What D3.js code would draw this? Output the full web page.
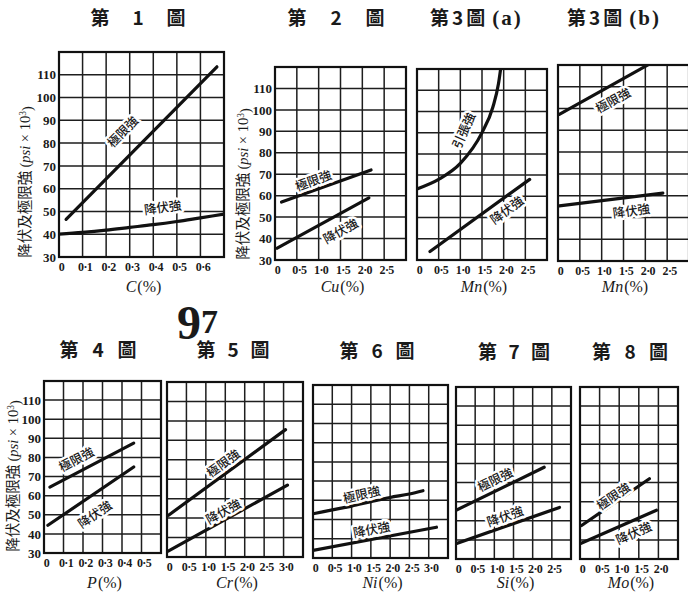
<!DOCTYPE html>
<html>
<head>
<meta charset="utf-8">
<script src="https://cdn.jsdelivr.net/npm/d3@7"></script>
<style>
  body { margin: 0; background: #fff; }
  text { fill: #1a1a1a; }
</style>
</head>
<body>
<svg id="chart" width="688" height="593"></svg>
<script>
// strength (psi x 10^3) against alloy content (%)
var yTicks = [30, 40, 50, 60, 70, 80, 90, 100, 110];
var yTop = 120;

var cTicks = ["0", "0·1", "0·2", "0·3", "0·4", "0·5", "0·6"];
var pTicks = ["0", "0·1", "0·2", "0·3", "0·4", "0·5"];
var halfTicks6 = ["0", "0·5", "1·0", "1·5", "2·0", "2·5"];
var halfTicks7 = ["0", "0·5", "1·0", "1·5", "2·0", "2·5", "3·0"];
var moTicks = ["0", "0·5", "1·0", "1·5", "2·0"];

var titles = ["第 1 圖", "第 2 圖", "第3圖|(a)", "第3圖|(b)", "第 4 圖", "第 5 圖", "第 6 圖", "第 7 圖", "第 8 圖"];
var elements = ["C", "Cu", "Mn", "Mn", "P", "Cr", "Ni", "Si", "Mo"];

// [x %, y] points of each curve
var fig1Ult = [[0.03, 46.5], [0.67, 113.5]];
var fig1Yld = [[0, 40], [0.1, 40.8], [0.2, 41.8], [0.3, 43], [0.4, 44.2], [0.5, 45.6], [0.6, 47.2], [0.7, 48.8]];
var fig2Ult = [[0.15, 57], [2.2, 72]];
var fig2Yld = [[0.05, 35.5], [2.15, 59]];
var fig3aTen = [[0, 63.5], [0.5, 68], [1.0, 75.5], [1.5, 90], [1.75, 102], [1.88, 113], [1.93, 120]];
var fig3aYld = [[0.3, 34], [2.6, 68]];
var fig3bUlt = [[0.03, 97.3], [2.1, 120.5]];
var fig3bYld = [[0.03, 55.3], [2.4, 61.2]];
var fig4Ult = [[0.03, 64.5], [0.46, 87.5]];
var fig4Yld = [[0.02, 44.5], [0.46, 75]];
var fig5Ult = [[0.04, 51.5], [3.05, 95.5]];
var fig5Yld = [[0.03, 33], [3.1, 67]];
var fig6Ult = [[0, 53], [0.5, 55], [1.0, 57], [1.5, 59.3], [2.0, 61.5], [2.5, 63.3], [2.85, 65]];
var fig6Yld = [[0, 34], [3.2, 46]];
var fig7Ult = [[0, 55.5], [2.3, 78]];
var fig7Yld = [[0, 38], [2.7, 57]];
var fig8Ult = [[0.04, 47.5], [1.77, 72]];
var fig8Yld = [[0, 38], [1.95, 55.5]];

// curve names: [text, x, y, index of curve it follows, optional angle]
var fig1Notes = [["極限強", 0.27, 85, 0], ["降伏強", 0.44, 51.7, 1]];
var fig2Notes = [["極限強", 0.88, 67, 0], ["降伏強", 1.5, 43.5, 1]];
var fig3aNotes = [["引張強", 1.08, 91, 0, -66], ["降伏強", 2.07, 53.5, 1]];
var fig3bNotes = [["極限強", 1.26, 103.7, 0], ["降伏強", 1.68, 53, 1]];
var fig4Notes = [["極限強", 0.166, 79, 0], ["降伏強", 0.26, 50.2, 1]];
var fig5Notes = [["極限強", 1.45, 78.2, 0], ["降伏強", 1.45, 53.4, 1]];
var fig6Notes = [["極限強", 1.26, 63, 0], ["降伏強", 1.52, 44.7, 1]];
var fig7Notes = [["極限強", 1.02, 71.5, 0], ["降伏強", 1.28, 52.3, 1]];
var fig8Notes = [["極限強", 0.85, 62.8, 0], ["降伏強", 1.37, 43.6, 1]];

// layout of each small chart
var panels = [
  {frame: [59, 52, 224, 257], xMax: 0.7, step: 0.1, ticks: cTicks, yAxis: [25, 182], title: [138, 25, 95], lines: [fig1Ult, fig1Yld], notes: fig1Notes, row: 0},
  {frame: [275, 67, 406, 260], xMax: 3.0, step: 0.5, ticks: halfTicks6, yAxis: [243, 184], title: [336, 25, 97], lines: [fig2Ult, fig2Yld], notes: fig2Notes, row: 0},
  {frame: [417, 69, 547, 260], xMax: 3.0, step: 0.5, ticks: halfTicks6, yAxis: null, title: [430, 25, 0], lines: [fig3aTen, fig3aYld], notes: fig3aNotes, row: 0},
  {frame: [558, 65, 689, 261], xMax: 3.0, step: 0.5, ticks: halfTicks6, yAxis: null, title: [567, 25, 0], lines: [fig3bUlt, fig3bYld], notes: fig3bNotes, row: 0},
  {frame: [44, 381, 161, 553], xMax: 0.6, step: 0.1, ticks: pTicks, yAxis: [13, 476], title: [98, 357, 77], lines: [fig4Ult, fig4Yld], notes: fig4Notes, row: 1},
  {frame: [167, 382, 303, 557], xMax: 3.5, step: 0.5, ticks: halfTicks7, yAxis: null, title: [233, 357, 73], lines: [fig5Ult, fig5Yld], notes: fig5Notes, row: 1},
  {frame: [313, 385, 448, 558], xMax: 3.5, step: 0.5, ticks: halfTicks7, yAxis: null, title: [377, 358, 75], lines: [fig6Ult, fig6Yld], notes: fig6Notes, row: 1},
  {frame: [456, 387, 571, 559], xMax: 3.0, step: 0.5, ticks: halfTicks6, yAxis: null, title: [514, 359, 72], lines: [fig7Ult, fig7Yld], notes: fig7Notes, row: 1},
  {frame: [580, 387, 678, 559], xMax: 2.5, step: 0.5, ticks: moTicks, yAxis: null, title: [630, 359, 76], lines: [fig8Ult, fig8Yld], notes: fig8Notes, row: 1}
];

var svg = d3.select("#chart");
svg.append("rect").attr("width", 688).attr("height", 593).attr("fill", "#fff");

var serif = "'Liberation Serif', 'DejaVu Serif', serif";
var cjk = "'Noto Sans CJK JP', 'Noto Sans CJK TC', sans-serif";
var noteSize = 12.5;

// page number printed over the figure
var pn = svg.append("text").attr("x", 177).attr("y", 339)
  .style("font-family", serif).style("font-weight", "bold");
pn.append("tspan").style("font-size", "48px").text("9");
pn.append("tspan").style("font-size", "34px").attr("dy", "-6").text("7");

// layers, bottom to top
var textLayer = svg.append("g");
var gridLayer = svg.append("g");
var curveLayer = svg.append("g");
var noteLayer = svg.append("g");
var frameLayer = svg.append("g");

panels.forEach(function(p, i) {
  var x = d3.scaleLinear().domain([0, p.xMax]).range([p.frame[0], p.frame[2]]);
  var y = d3.scaleLinear().domain([30, yTop]).range([p.frame[3], p.frame[1]]);
  var x0 = p.frame[0], y0 = p.frame[1], x1 = p.frame[2], y1 = p.frame[3];

  // grid on the scale ticks
  var cells = Math.round(p.xMax / p.step);
  var xs = d3.range(1, cells).map(function(k) { return k * p.step; });
  var gd = "";
  xs.forEach(function(v) { gd += "M" + x(v) + "," + y0 + "V" + y1; });
  yTicks.slice(1).forEach(function(v) { gd += "M" + x0 + "," + y(v) + "H" + x1; });
  gridLayer.append("path").attr("d", gd)
    .attr("fill", "none").attr("stroke", "#1e1e1e").attr("stroke-width", 1.5);

  var g = textLayer.append("g");

  // title
  var parts = titles[i].split("|");
  var tt = g.append("text")
    .attr("x", p.title[0]).attr("y", p.title[1])
    .style("font-family", cjk).style("font-weight", "bold").style("font-size", "19px");
  if (p.title[2] > 0) {
    tt.attr("text-anchor", "middle").attr("textLength", p.title[2]).attr("lengthAdjust", "spacing").text(parts[0]);
  } else {
    tt.append("tspan").style("letter-spacing", "3px").text(parts[0]);
    tt.append("tspan").attr("dx", 4).style("font-family", serif).style("font-size", "21px")
      .style("letter-spacing", "2px").text(parts[1]);
  }

  // x tick labels
  var xt = g.append("g")
    .attr("transform", "translate(2," + y1 + ")")
    .call(d3.axisBottom(x).tickValues(p.ticks.map(function(t, k) { return k * p.step; }))
      .tickSize(0).tickPadding(5).tickFormat(function(d, k) { return p.ticks[k]; }));
  xt.select(".domain").remove();
  xt.selectAll("line").remove();
  xt.selectAll("text").style("font-family", serif).style("font-weight", "bold").style("font-size", "12px")
    .style("letter-spacing", "-0.6px");

  // axis name
  var an = g.append("text")
    .attr("x", (x0 + Math.min(x1, 688)) / 2 + 2)
    .attr("y", p.row === 0 ? 292 : 588)
    .attr("text-anchor", "middle")
    .style("font-family", serif).style("font-size", "16px");
  an.append("tspan").style("font-style", "italic").text(elements[i]);
  an.append("tspan").attr("dx", 1).text("(%)");

  // y tick labels and y title
  if (p.yAxis !== null) {
    var yt = g.append("g")
      .attr("transform", "translate(" + (x0 - 1) + ",0)")
      .call(d3.axisLeft(y).tickValues(yTicks).tickSize(0).tickPadding(2));
    yt.select(".domain").remove();
    yt.selectAll("line").remove();
    yt.selectAll("text").style("font-family", serif).style("font-weight", "bold").style("font-size", "13px");

    var ttl = g.append("text")
      .attr("transform", "translate(" + p.yAxis[0] + "," + p.yAxis[1] + ") rotate(-90)")
      .attr("text-anchor", "middle").attr("dy", "0.35em")
      .style("font-size", "14.5px");
    ttl.append("tspan").style("font-family", cjk).text("降伏及極限強 ");
    ttl.append("tspan").style("font-family", serif).text("(");
    ttl.append("tspan").style("font-family", serif).style("font-style", "italic").text("psi");
    ttl.append("tspan").style("font-family", serif).text(" × 10");
    ttl.append("tspan").style("font-family", serif).attr("dy", "-0.45em").style("font-size", "9.5px").text("3");
    ttl.append("tspan").style("font-family", serif).attr("dy", "0.45em").text(")");
  }

  // curves, clipped to the frame
  var clipId = "clip" + i;
  curveLayer.append("clipPath").attr("id", clipId).append("rect")
    .attr("x", x0).attr("y", y0).attr("width", x1 - x0).attr("height", y1 - y0);
  var line = d3.line().x(function(d) { return x(d[0]); }).y(function(d) { return y(d[1]); }).curve(d3.curveMonotoneX);
  curveLayer.append("g").selectAll("path").data(p.lines).enter().append("path")
    .attr("clip-path", "url(#" + clipId + ")")
    .attr("d", line)
    .attr("fill", "none").attr("stroke", "#111").attr("stroke-width", 3.2).attr("stroke-linecap", "round");

  // curve names, with a white halo that hides the grid behind them
  p.notes.forEach(function(n) {
    var pts = p.lines[n[3]];
    var a = pts[0], b = pts[pts.length - 1];
    for (var k = 0; k < pts.length - 1; k++) {
      if (pts[k][0] <= n[1] && pts[k + 1][0] >= n[1]) { a = pts[k]; b = pts[k + 1]; }
    }
    var ang = n[4] !== undefined ? n[4] :
      Math.atan2(y(b[1]) - y(a[1]), x(b[0]) - x(a[0])) * 180 / Math.PI;
    noteLayer.append("text")
      .attr("transform", "translate(" + x(n[1]) + "," + y(n[2]) + ") rotate(" + ang + ")")
      .attr("text-anchor", "middle").attr("dy", "0.36em")
      .attr("stroke", "#fff").attr("stroke-width", 5).attr("stroke-linejoin", "round")
      .attr("paint-order", "stroke")
      .style("font-family", cjk).style("font-size", noteSize + "px").style("font-weight", "500")
      .text(n[0]);
  });

  // frame
  frameLayer.append("rect")
    .attr("x", x0).attr("y", y0).attr("width", x1 - x0).attr("height", y1 - y0)
    .attr("fill", "none").attr("stroke", "#111").attr("stroke-width", 2.2);
});
</script>
</body>
</html>
